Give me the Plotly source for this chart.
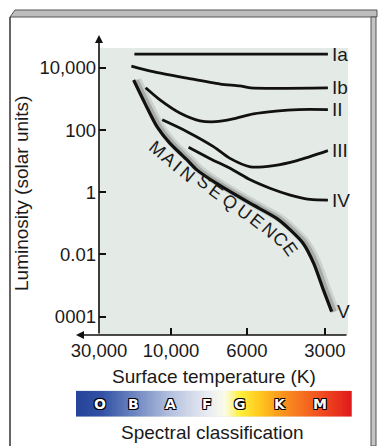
import plotly.graph_objects as go

W, H = 378, 446

# ---- data (x = position on temperature axis, y = log10 luminosity) ----
temp_tick_pos = [0.0, 0.956, 1.965, 3.0]
temp_tick_labels = ["30,000", "10,000", "6000", "3000"]
lum_tick_pos = [4, 2, 0, -2, -4]
lum_tick_labels = ["10,000", "100", "1", "0.01", "0001"]

ia_x = [0.47, 3.04]
ia_y = [4.44, 4.44]
ib_x = [0.43, 0.72, 1.17, 1.61, 1.87, 2.01, 3.04]
ib_y = [4.06, 3.88, 3.67, 3.48, 3.42, 3.36, 3.36]
ii_x = [0.62, 0.81, 1.08, 1.34, 1.55, 1.78, 2.05, 2.35, 2.65, 3.04]
ii_y = [3.36, 2.97, 2.54, 2.30, 2.27, 2.36, 2.52, 2.61, 2.66, 2.66]
iii_x = [0.84, 1.17, 1.52, 1.74, 2.01, 2.32, 2.63, 3.04]
iii_y = [2.33, 1.95, 1.47, 1.09, 0.82, 0.86, 1.02, 1.34]
iv_x = [1.19, 1.47, 1.78, 2.01, 2.27, 2.54, 2.80, 3.04]
iv_y = [1.45, 1.09, 0.72, 0.40, 0.13, -0.09, -0.23, -0.25]
ms_x = [0.46, 0.61, 0.77, 0.94, 1.17, 1.30, 1.55, 2.01, 2.36, 2.54, 2.71, 2.85, 2.98, 3.09]
ms_y = [3.61, 2.86, 2.11, 1.58, 1.04, 0.72, 0.30, -0.36, -0.84, -1.21, -1.64, -2.28, -3.14, -3.84]

class_labels = ["Ia", "Ib", "II", "III", "IV", "V"]
class_label_y = [4.44, 3.36, 2.66, 1.34, -0.25, -3.84]

spectral_classes = ["O", "B", "A", "F", "G", "K", "M"]
spectral_x_px = [100, 133, 170, 207, 240, 280, 320]

ms_letters = list("MAINSEQUENCE")
ms_letter_px = [(157, 149), (169, 159), (177, 166), (187, 174),
                (204, 182), (216, 192), (230, 202), (244, 212),
                (257, 221), (269, 230), (280, 239), (290, 249)]
ms_letter_ang = [40, 40, 40, 40, 36, 36, 36, 37, 39, 43, 48, 55]

FONT = "Liberation Sans, Arial, sans-serif"
INK = "#1a1a1a"

def px(x):
    return x / W

def py(y):
    return 1 - y / H

fig = go.Figure()

# main sequence shadow
fig.add_trace(go.Scatter(x=[v + 0.045 for v in ms_x], y=ms_y, mode="lines",
                         line=dict(color="rgba(0,0,0,0.10)", width=9, shape="spline", smoothing=0.8),
                         hoverinfo="skip", showlegend=False))
fig.add_trace(go.Scatter(x=[v + 0.035 for v in ms_x], y=ms_y, mode="lines",
                         line=dict(color="rgba(0,0,0,0.18)", width=5, shape="spline", smoothing=0.8),
                         hoverinfo="skip", showlegend=False))

for xs, ys, w in [(ia_x, ia_y, 2.8), (ib_x, ib_y, 2.8), (ii_x, ii_y, 2.8),
                  (iii_x, iii_y, 2.8), (iv_x, iv_y, 2.8), (ms_x, ms_y, 3.2)]:
    fig.add_trace(go.Scatter(x=xs, y=ys, mode="lines",
                             line=dict(color="#111111", width=w, shape="spline", smoothing=0.8),
                             hoverinfo="skip", showlegend=False))

# spectral colour bar
N = 160
fig.add_trace(go.Heatmap(
    z=[[i / (N - 1) for i in range(N)]], xaxis="x2", yaxis="y2",
    zmin=0, zmax=1, showscale=False, hoverinfo="skip",
    colorscale=[[0.0, "#26449a"], [0.087, "#3050a5"], [0.207, "#6c84c0"],
                [0.341, "#b4c0de"], [0.475, "#e8ebf2"], [0.54, "#fbfbe8"],
                [0.595, "#fff03c"], [0.667, "#ffc81e"], [0.74, "#fa9a1e"],
                [0.885, "#f25020"], [1.0, "#e01a1a"]]))

annotations = []
# class labels at right
for lab, yv in zip(class_labels, class_label_y):
    annotations.append(dict(x=3.07 if lab != "V" else 3.14, y=yv, xref="x", yref="y",
                            text=lab, showarrow=False, xanchor="left", yanchor="middle",
                            font=dict(family=FONT, size=19, color=INK)))
# MAIN SEQUENCE text
for ch, (lx, ly), ang in zip(ms_letters, ms_letter_px, ms_letter_ang):
    annotations.append(dict(x=px(lx), y=py(ly), xref="paper", yref="paper", text=ch,
                            showarrow=False, textangle=ang, xanchor="center", yanchor="middle",
                            font=dict(family=FONT, size=18, color=INK)))
# spectral class letters
for ch, lx in zip(spectral_classes, spectral_x_px):
    annotations.append(dict(x=px(lx), y=py(404), xref="paper", yref="paper", text="<b>" + ch + "</b>",
                            showarrow=False, xanchor="center", yanchor="middle",
                            font=dict(family="DejaVu Sans", size=14, color="white",
                                      shadow="1px 1px 0 #000, -1px -1px 0 #000, 1px -1px 0 #000, -1px 1px 0 #000")))
# titles
annotations.append(dict(x=px(22), y=py(194), xref="paper", yref="paper",
                        text="Luminosity (solar units)", textangle=-90, showarrow=False,
                        xanchor="center", yanchor="middle",
                        font=dict(family=FONT, size=19, color=INK)))
annotations.append(dict(x=px(214), y=py(376), xref="paper", yref="paper",
                        text="Surface temperature (K)", showarrow=False,
                        xanchor="center", yanchor="middle",
                        font=dict(family=FONT, size=19, color=INK)))
annotations.append(dict(x=px(212), y=py(432), xref="paper", yref="paper",
                        text="Spectral classification", showarrow=False,
                        xanchor="center", yanchor="middle",
                        font=dict(family=FONT, size=19, color=INK)))
# axis arrows
annotations.append(dict(x=px(99), y=py(35), xref="paper", yref="paper", text="",
                        showarrow=True, ax=0, ay=300, arrowhead=2, arrowsize=1,
                        arrowwidth=1.6, arrowcolor="#111"))
annotations.append(dict(x=px(76), y=py(335), xref="paper", yref="paper", text="",
                        showarrow=True, ax=272, ay=0, arrowhead=2, arrowsize=1,
                        arrowwidth=1.6, arrowcolor="#111"))

shapes = [
    dict(type="path", xref="paper", yref="paper",
         path=f"M {px(10)},{py(17)} L {px(15)},{py(10)} L {px(377)},{py(10)} L {px(377)},{py(17)} Z",
         fillcolor="#bdbdbd", line=dict(color="#555", width=1)),
    dict(type="rect", xref="paper", yref="paper", x0=px(371), x1=px(376), y0=0, y1=py(17),
         fillcolor="#c4c4c4", line=dict(color="#555", width=1)),
    dict(type="line", xref="paper", yref="paper", x0=px(10), x1=px(10), y0=0, y1=py(17),
         line=dict(color="#333", width=1.5)),
]

fig.update_layout(
    width=W, height=H, margin=dict(l=0, r=0, t=0, b=0, autoexpand=False),
    paper_bgcolor="white", plot_bgcolor="#e4eae6",
    showlegend=False, annotations=annotations, shapes=shapes,
    xaxis=dict(domain=[px(99), px(348)], range=[0, 3.307], anchor="y", automargin=False,
               tickvals=temp_tick_pos, ticktext=temp_tick_labels,
               ticks="inside", ticklen=7, tickwidth=1.5, tickcolor="#111",
               showline=False, showgrid=False, zeroline=False, ticklabelstandoff=2,
               tickfont=dict(family=FONT, size=18.5, color=INK)),
    yaxis=dict(domain=[py(335), py(48)], range=[-4.59, 4.64], anchor="x", automargin=False,
               tickvals=lum_tick_pos, ticktext=lum_tick_labels,
               ticks="inside", ticklen=7, tickwidth=1.5, tickcolor="#111",
               showline=False, showgrid=False, zeroline=False, ticklabelstandoff=2,
               tickfont=dict(family=FONT, size=18.5, color=INK)),
    xaxis2=dict(domain=[px(76), px(351.7)], anchor="y2", visible=False, automargin=False,
                range=[-0.5, N - 0.5]),
    yaxis2=dict(domain=[py(416.7), py(390.7)], anchor="x2", visible=False, automargin=False,
                range=[-0.5, 0.5]),
)

fig.write_html("out.html", config={"displayModeBar": False},
               post_script="document.body.style.margin='0';")
